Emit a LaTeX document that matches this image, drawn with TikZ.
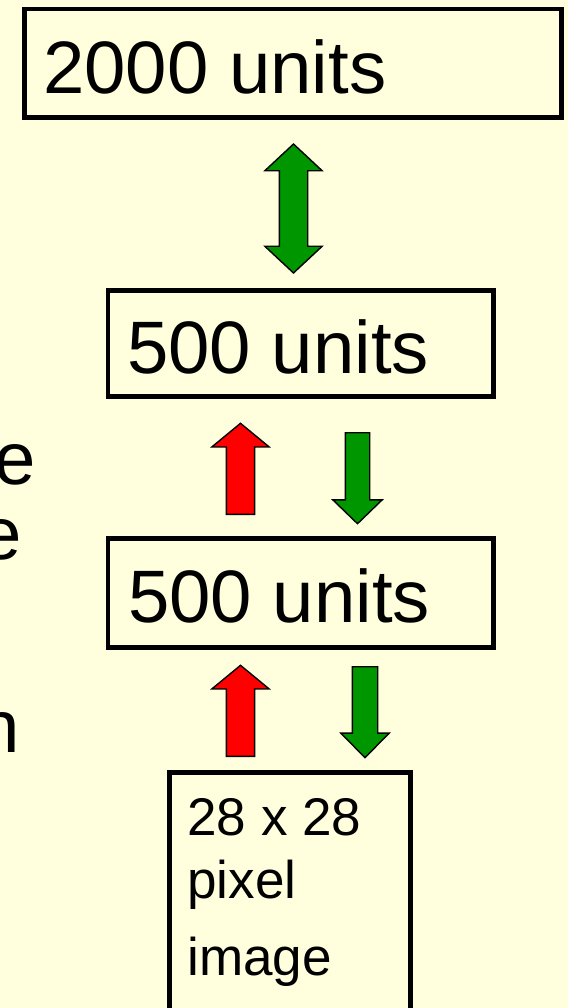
\documentclass[tikz,border=0pt]{standalone}
\usepackage{fontspec}
\setmainfont{Liberation Sans}
\usetikzlibrary{fit,shapes.arrows}

\definecolor{paper}{RGB}{255,255,221}
\definecolor{arrowgreen}{RGB}{0,150,0}

\tikzset{
    unitbox/.style={draw, line width=2.3pt, inner sep=0pt},
    bigtext/.style={inner sep=0pt, font=\fontsize{42.3}{50}\selectfont},
    smalltext/.style={inner sep=0pt, font=\fontsize{30.2}{36}\selectfont},
    blockarrow/.style={single arrow, draw=black, line width=0.8pt, anchor=tail, shape border rotate=#1},
}

\begin{document}
\begin{tikzpicture}[x=0.02cm, y=-0.02cm]
    \useasboundingbox (0,0) rectangle (568,1008);
    \clip (0,0) rectangle (568,1008);
    \fill[paper] (0,0) rectangle (568,1008);

    \node[unitbox, fit={(24.5,9) (561.5,117.5)}] (top) {};
    \node[bigtext, anchor=base west] (toptext) at (43,93) {2000 units};

    \node[unitbox, fit={(108,290.5) (493.5,396.5)}] (h2) {};
    \node[bigtext, anchor=base west] (h2text) at (127,373) {500 units};

    \node[unitbox, fit={(108,538.5) (493.5,647.5)}] (h1) {};
    \node[bigtext, anchor=base west] (h1text) at (128,622) {500 units};

    \node[unitbox, fit={(169.5,772.5) (410.5,1030)}] (img) {};
    \node[smalltext, anchor=base west] (imgtext1) at (187,835) {28 x 28};
    \node[smalltext, anchor=base west] (imgtext2) at (187,898) {pixel};
    \node[smalltext, anchor=base west] (imgtext3) at (187,975) {image};

    % text running in from the left edge
    \node[bigtext, anchor=base east] (side1) at (36,484) {e};
    \node[bigtext, anchor=base east] (side2) at (22,559) {e};
    \node[bigtext, anchor=base east] (side3) at (20,752) {n};

    \node[double arrow, draw=black, fill=arrowgreen, line width=0.8pt, inner sep=0.27cm, shape border rotate=90,
          minimum height=2.58cm, minimum width=1.12cm, double arrow head extend=0.29cm, double arrow tip angle=94] (tw) at (293.5,208.5) {};

    \node[blockarrow=90, fill=red, inner sep=0.27cm, minimum height=1.82cm, minimum width=1.12cm,
          single arrow head extend=0.29cm, single arrow tip angle=101] (up2) at (240.5,515) {};
    \node[blockarrow=270, fill=arrowgreen, inner sep=0.23cm, minimum height=1.82cm, minimum width=0.96cm,
          single arrow head extend=0.25cm, single arrow tip angle=92] (down2) at (357.5,432) {};

    \node[blockarrow=90, fill=red, inner sep=0.27cm, minimum height=1.82cm, minimum width=1.12cm,
          single arrow head extend=0.29cm, single arrow tip angle=101] (up1) at (240.5,757) {};
    \node[blockarrow=270, fill=arrowgreen, inner sep=0.24cm, minimum height=1.82cm, minimum width=0.94cm,
          single arrow head extend=0.23cm, single arrow tip angle=89] (down1) at (365,666) {};
\end{tikzpicture}
\end{document}
